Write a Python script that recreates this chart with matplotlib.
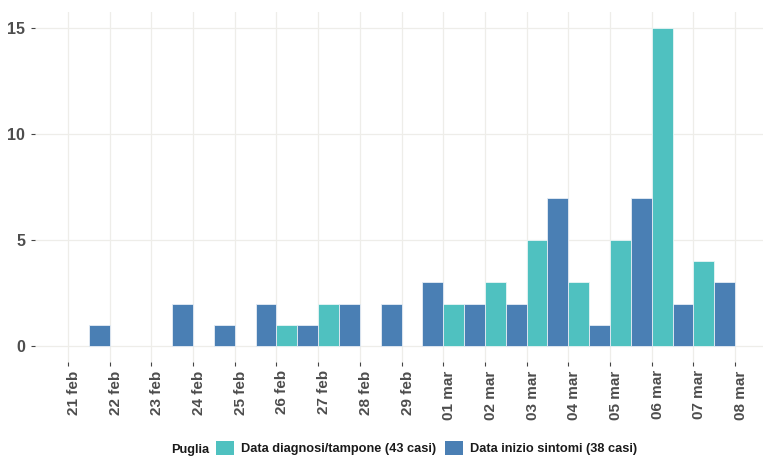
import matplotlib
matplotlib.use("Agg")
import matplotlib.pyplot as plt
import matplotlib.dates as mdates
import matplotlib.transforms as mtransforms
from matplotlib.patches import Patch
import datetime as dt

plt.rcParams['font.family'] = ['Liberation Sans', 'DejaVu Sans']

# Daily case counts, Puglia
dates_diagnosi = ["2020-02-26", "2020-02-27", "2020-03-01", "2020-03-02", "2020-03-03",
                  "2020-03-04", "2020-03-05", "2020-03-06", "2020-03-07"]
casi_diagnosi = [1, 2, 2, 3, 5, 3, 5, 15, 4]

dates_sintomi = ["2020-02-21", "2020-02-23", "2020-02-24", "2020-02-25", "2020-02-26",
                 "2020-02-27", "2020-02-28", "2020-02-29", "2020-03-01", "2020-03-02",
                 "2020-03-03", "2020-03-04", "2020-03-05", "2020-03-06", "2020-03-07"]
casi_sintomi = [1, 2, 1, 2, 1, 2, 2, 3, 2, 2, 7, 1, 7, 2, 3]

tick_dates = ["2020-02-21", "2020-02-22", "2020-02-23", "2020-02-24", "2020-02-25",
              "2020-02-26", "2020-02-27", "2020-02-28", "2020-02-29", "2020-03-01",
              "2020-03-02", "2020-03-03", "2020-03-04", "2020-03-05", "2020-03-06",
              "2020-03-07", "2020-03-08"]
tick_labels = ["21 feb", "22 feb", "23 feb", "24 feb", "25 feb", "26 feb", "27 feb",
               "28 feb", "29 feb", "01 mar", "02 mar", "03 mar", "04 mar", "05 mar",
               "06 mar", "07 mar", "08 mar"]

label_diagnosi = "Data diagnosi/tampone (43 casi)"
label_sintomi = "Data inizio sintomi (38 casi)"
col_diagnosi = "#4FC1C0"
col_sintomi = "#4A7FB4"

def to_num(ds):
    return mdates.date2num([dt.datetime.strptime(d, "%Y-%m-%d") for d in ds])

fig = plt.figure(figsize=(7.63, 4.57), dpi=100)
ax = fig.add_axes([35 / 763, 95 / 457, 728 / 763, 350 / 457])

w = 0.5
xd = to_num(dates_diagnosi)
xs = to_num(dates_sintomi)
ax.bar(xd, casi_diagnosi, width=w, align='edge', color=col_diagnosi,
       edgecolor="#e8f5f5", linewidth=0.6, zorder=3)
ax.bar(xs + w, casi_sintomi, width=w, align='edge', color=col_sintomi,
       edgecolor="#e6edf5", linewidth=0.6, zorder=3)

xt = to_num(tick_dates)
ax.set_xticks(xt)
ax.set_xticklabels(tick_labels, rotation=90, fontsize=11, fontweight='bold',
                   color="#4d4d4d")
ax.set_xlim(xt[0] - 0.79, xt[-1] + 0.67)

ax.set_yticks([0, 5, 10, 15])
ax.set_yticklabels(["0", "5", "10", "15"], fontsize=11.5, fontweight='bold',
                   color="#4d4d4d")
ax.set_ylim(-0.75, 15.75)

for s in ax.spines.values():
    s.set_visible(False)
ax.grid(True, color="#eeede9", linewidth=0.9, zorder=0)
ax.tick_params(axis='both', length=3, width=0.8, color="#444444", pad=4)
ax.tick_params(axis='x', pad=3)

# nudge the rotated date labels slightly to the right of their ticks
shift = mtransforms.ScaledTranslation(6 / 100, 0, fig.dpi_scale_trans)
for lab in ax.get_xticklabels():
    lab.set_transform(lab.get_transform() + shift)

# Legend along the bottom with the region name on the left
ly = 1 - 448 / 457
handles = [Patch(facecolor=col_diagnosi, edgecolor='none', label=label_diagnosi),
           Patch(facecolor=col_sintomi, edgecolor='none', label=label_sintomi)]
leg = fig.legend(handles=handles, loc='center left', ncol=2,
                 bbox_to_anchor=(216 / 763, ly), frameon=False,
                 prop={'size': 9.2, 'weight': 'bold'}, handlelength=1.4,
                 handleheight=1.4, handletextpad=0.55, columnspacing=0.7,
                 borderaxespad=0, borderpad=0)
for t in leg.get_texts():
    t.set_color("#1a1a1a")
fig.text(171 / 763, ly - 1 / 457, "Puglia", fontsize=9.2, fontweight='bold',
         va='center_baseline', ha='left', color="#1a1a1a")

fig.savefig("out.png", dpi=100, facecolor="white")
